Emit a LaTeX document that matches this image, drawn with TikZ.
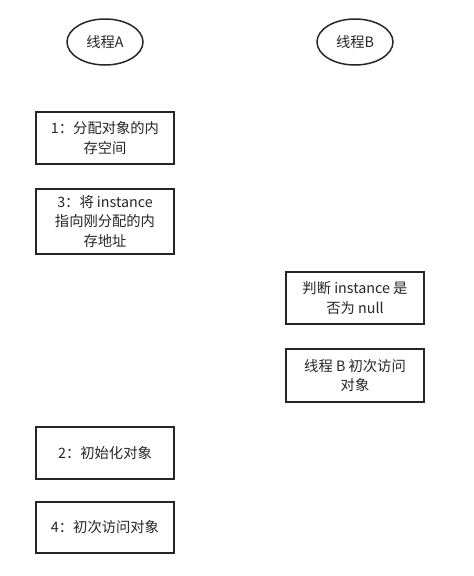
\documentclass[tikz,border=0pt]{standalone}
\usetikzlibrary{shapes.geometric}
\usepackage{fontspec}
\setmainfont{Noto Sans CJK SC}
\begin{document}
\begin{tikzpicture}[x=1pt,y=-1pt,
  box/.style={draw=black!85,line width=1.5pt,minimum width=138pt,align=center,inner sep=0pt,font=\fontsize{14.3}{19.5}\selectfont,text=black!85},
  thread/.style={draw=black!85,line width=1.5pt,ellipse,minimum width=76pt,minimum height=46pt,inner sep=0pt,font=\fontsize{14.3}{19.5}\selectfont,text=black!85}]
\useasboundingbox (0,0) rectangle (474,576);
\node[thread] (ta) at (105,42) {线程A};
\node[thread] (tb) at (355,42) {线程B};
\node[box,minimum height=52pt] (s1) at (105,138) {1：分配对象的内\\存空间};
\node[box,minimum height=65pt] (s3) at (105,221.5) {3：将 instance\\指向刚分配的内\\存地址};
\node[box,minimum height=52pt] (j) at (355,298) {判断 instance 是\\否为 null};
\node[box,minimum height=53pt] (b) at (355,375.5) {线程 B 初次访问\\对象};
\node[box,minimum height=52pt] (s2) at (105,453) {2：初始化对象};
\node[box,minimum height=51pt] (s4) at (105,527.5) {4：初次访问对象};
\end{tikzpicture}
\end{document}
